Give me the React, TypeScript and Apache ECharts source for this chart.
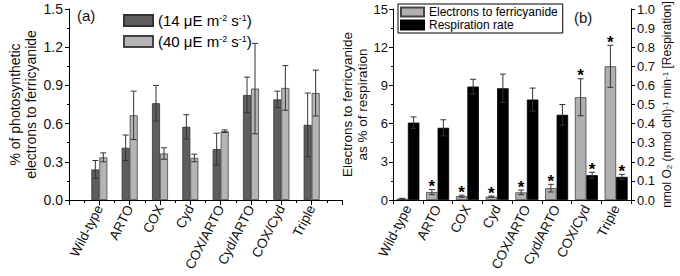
import React, { useEffect, useRef } from 'react';
import * as echarts from 'echarts';

const strains = ['Wild-type', 'ARTO', 'COX', 'Cyd', 'COX/ARTO', 'Cyd/ARTO', 'COX/Cyd', 'Triple'];
// panel (a): % of photosynthetic electrons to ferricyanide
const low14 = [0.24, 0.41, 0.76, 0.575, 0.4, 0.825, 0.79, 0.59];
const low14Err = [0.07, 0.1, 0.14, 0.095, 0.125, 0.14, 0.065, 0.25];
const high40 = [0.335, 0.665, 0.365, 0.33, 0.54, 0.875, 0.88, 0.84];
const high40Err = [0.035, 0.19, 0.045, 0.03, 0.01, 0.355, 0.175, 0.18];
// panel (b)
const ferri = [0.1, 0.62, 0.3, 0.26, 0.6, 0.93, 8.07, 10.5];
const ferriErr = [0.03, 0.2, 0.08, 0.05, 0.18, 0.3, 1.45, 1.65];
const ferriStar = [0, 1, 1, 1, 1, 1, 1, 1];
const resp = [0.405, 0.378, 0.594, 0.585, 0.526, 0.446, 0.13, 0.121];
const respErr = [0.03, 0.042, 0.038, 0.074, 0.06, 0.054, 0.015, 0.013];
const respStar = [0, 0, 0, 0, 0, 0, 1, 1];

const leftTicks = [0, 0.3, 0.6, 0.9, 1.2, 1.5];
const FONT = 'Liberation Sans';
const AX = '#000';

function errRender(params: any, api: any) {
  const x = api.value(0);
  const v = api.value(1);
  const e = api.value(2);
  const off = api.value(3);
  const star = api.value(4);
  const top = api.coord([x, v + e]);
  const bot = api.coord([x, Math.max(0, v - e)]);
  const cx = top[0] + off;
  const st = { stroke: '#333', lineWidth: 1 };
  const children: any[] = [
    { type: 'line', shape: { x1: cx, y1: top[1], x2: cx, y2: bot[1] }, style: st },
    { type: 'line', shape: { x1: cx - 3, y1: top[1], x2: cx + 3, y2: top[1] }, style: st },
    { type: 'line', shape: { x1: cx - 3, y1: bot[1], x2: cx + 3, y2: bot[1] }, style: st },
  ];
  if (star) {
    children.push({
      type: 'text',
      x: cx,
      y: top[1] - 3,
      style: { text: '*', fill: '#000', font: `bold 17px "${FONT}"`, align: 'center', verticalAlign: 'middle' },
    });
  }
  return { type: 'group', children };
}

export default function App() {
  const ref = useRef<HTMLDivElement>(null);
  useEffect(() => {
    if (!ref.current) return;
    const chart = echarts.init(ref.current, undefined, { renderer: 'svg' });
    const lineStyle = { color: AX, width: 1 };
    const labelBase = { color: '#111', fontFamily: FONT };
    const option: any = {
      animation: false,
      backgroundColor: '#fff',
      textStyle: { fontFamily: FONT },
      grid: [
        { left: 69, top: 9, width: 273, height: 191, outerBoundsMode: 'none', containLabel: false },
        { left: 393, top: 9, width: 238, height: 191, outerBoundsMode: 'none', containLabel: false },
      ],
      legend: [
        {
          data: ['14', '40'],
          left: 118,
          top: 8,
          orient: 'vertical',
          itemWidth: 29,
          itemHeight: 11,
          itemGap: 6,
          icon: 'rect',
          selectedMode: false,
          formatter: (name: string) => `{n|(${name} μE m}{s|-2}{n| s}{s|-1}{n|)}`,
          textStyle: {
            color: '#000',
            fontSize: 15,
            fontFamily: FONT,
            rich: {
              n: { fontSize: 15, fontFamily: FONT, color: '#000' },
              s: { fontSize: 9, fontFamily: FONT, color: '#000', verticalAlign: 'top' },
            },
          },
        },
        {
          data: ['Electrons to ferricyanide', 'Respiration rate'],
          left: 398,
          top: 4,
          orient: 'vertical',
          itemWidth: 23,
          itemHeight: 9,
          itemGap: 1,
          icon: 'rect',
          selectedMode: false,
          borderColor: '#000',
          borderWidth: 1,
          borderRadius: 0,
          padding: [2, 5, 2, 2],
          textStyle: { color: '#000', fontSize: 12, fontFamily: FONT, lineHeight: 12 },
        },
      ],
      xAxis: [
        {
          gridIndex: 0,
          type: 'value',
          min: 0,
          max: 9,
          interval: 1,
          axisLine: { show: true, onZero: false, lineStyle },
          axisTick: { show: true, length: 5, lineStyle },
          minorTick: { show: true, splitNumber: 2, length: 3, lineStyle },
          splitLine: { show: false },
          axisLabel: {
            ...labelBase,
            fontSize: 13.5,
            rotate: 63,
            margin: 6,
            hideOverlap: false,
            formatter: (v: number) => strains[Math.round(v) - 1] ?? '',
          },
        },
        {
          gridIndex: 1,
          type: 'category',
          data: strains,
          axisLine: { show: true, onZero: false, lineStyle },
          axisTick: { show: true, length: 4, lineStyle },
          axisLabel: { ...labelBase, fontSize: 13.5, rotate: 63, margin: 6, interval: 0, hideOverlap: false },
        },
      ],
      yAxis: [
        {
          gridIndex: 0,
          type: 'value',
          min: leftTicks[0],
          max: leftTicks[leftTicks.length - 1],
          interval: 0.3,
          axisLine: { show: true, lineStyle },
          axisTick: { show: true, length: 4, lineStyle },
          minorTick: { show: true, splitNumber: 2, length: 2, lineStyle },
          splitLine: { show: false },
          axisLabel: { ...labelBase, fontSize: 14, margin: 6, formatter: (v: number) => v.toFixed(1) },
          name: '% of photosynthetic\nelectrons to ferricyanide',
          nameLocation: 'middle',
          nameGap: 30,
          nameTextStyle: { color: '#111', fontSize: 14, fontFamily: FONT, lineHeight: 16 },
        },
        {
          gridIndex: 1,
          type: 'value',
          min: 0,
          max: 15,
          interval: 3,
          axisLine: { show: true, lineStyle },
          axisTick: { show: true, length: 4, lineStyle },
          minorTick: { show: true, splitNumber: 2, length: 2, lineStyle },
          splitLine: { show: false },
          axisLabel: { ...labelBase, fontSize: 13, margin: 5 },
          name: 'Electrons to ferricyanide\nas % of respiration',
          nameLocation: 'middle',
          nameGap: 7,
          nameTextStyle: { color: '#111', fontSize: 13.5, fontFamily: FONT, lineHeight: 15 },
        },
        {
          gridIndex: 1,
          type: 'value',
          position: 'right',
          min: 0,
          max: 1,
          interval: 0.1,
          axisLine: { show: true, lineStyle },
          axisTick: { show: true, length: 4, lineStyle },
          splitLine: { show: false },
          axisLabel: { ...labelBase, fontSize: 13, margin: 6, formatter: (v: number) => v.toFixed(1) },
          name: '{n|nmol O}{b|2}{n| (nmol chl)}{t|-1}{n| min}{t|-1}{n| [Respiration]}',
          nameLocation: 'middle',
          nameGap: 30,
          nameTextStyle: {
            color: '#111',
            fontSize: 12,
            fontFamily: FONT,
            rich: {
              n: { fontSize: 12, fontFamily: FONT, color: '#111' },
              b: { fontSize: 8, fontFamily: FONT, color: '#111', verticalAlign: 'bottom' },
              t: { fontSize: 8, fontFamily: FONT, color: '#111', verticalAlign: 'top' },
            },
          },
        },
      ],
      graphic: [
        { type: 'text', left: 77, top: 8, style: { text: '(a)', font: `15px "${FONT}"`, fill: '#111' } },
        { type: 'text', left: 574, top: 10, style: { text: '(b)', font: `15px "${FONT}"`, fill: '#111' } },
      ],
      series: [
        {
          name: '14',
          type: 'bar',
          xAxisIndex: 0,
          yAxisIndex: 0,
          barWidth: 8,
          barGap: '0%',
          data: low14.map((v, i) => [i + 1, v]),
          itemStyle: { color: '#5e5e5e', borderColor: '#333', borderWidth: 0.8 },
        },
        {
          name: '40',
          type: 'bar',
          xAxisIndex: 0,
          yAxisIndex: 0,
          barWidth: 8,
          barGap: '0%',
          data: high40.map((v, i) => [i + 1, v]),
          itemStyle: { color: '#b5b5b5', borderColor: '#444', borderWidth: 0.8 },
        },
        {
          type: 'custom',
          xAxisIndex: 0,
          yAxisIndex: 0,
          z: 5,
          renderItem: errRender,
          encode: { x: 0, y: 1 },
          data: [
            ...low14.map((v, i) => [i + 1, v, low14Err[i], -4, 0]),
            ...high40.map((v, i) => [i + 1, v, high40Err[i], 4, 0]),
          ],
        },
        {
          name: 'Electrons to ferricyanide',
          type: 'bar',
          xAxisIndex: 1,
          yAxisIndex: 1,
          barWidth: 11.5,
          barGap: '0%',
          data: ferri,
          itemStyle: { color: '#b0b0b0', borderColor: '#444', borderWidth: 0.8 },
        },
        {
          name: 'Respiration rate',
          type: 'bar',
          xAxisIndex: 1,
          yAxisIndex: 2,
          barWidth: 11.5,
          barGap: '0%',
          data: resp,
          itemStyle: { color: '#000', borderColor: '#000', borderWidth: 0.8 },
        },
        {
          type: 'custom',
          xAxisIndex: 1,
          yAxisIndex: 1,
          z: 5,
          renderItem: errRender,
          encode: { x: 0, y: 1 },
          data: ferri.map((v, i) => [i, v, ferriErr[i], -5.75, ferriStar[i]]),
        },
        {
          type: 'custom',
          xAxisIndex: 1,
          yAxisIndex: 2,
          z: 5,
          renderItem: errRender,
          encode: { x: 0, y: 1 },
          data: resp.map((v, i) => [i, v, respErr[i], 5.75, respStar[i]]),
        },
      ],
    };
    chart.setOption(option);
    return () => chart.dispose();
  }, []);
  return <div ref={ref} style={{ position: 'absolute', left: 0, top: 0, width: 680, height: 276 }} />;
}
